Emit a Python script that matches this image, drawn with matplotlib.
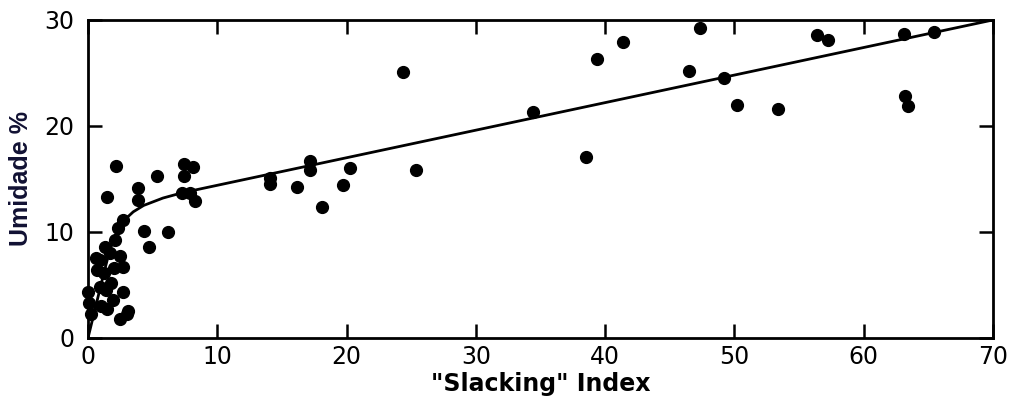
import matplotlib.pyplot as plt
from matplotlib import font_manager

# scattered measurements (slacking index, moisture %)
slack_x = [0.0, 0.1, 0.2, 0.6, 0.7, 0.9, 0.9, 1.0, 1.2, 1.3, 1.4, 1.5, 1.7, 1.8,
           1.9, 2.0, 2.5, 2.7, 2.7, 3.0, 3.1, 2.5, 2.3, 2.1, 2.7, 1.5, 2.2,
           3.9, 3.9, 5.3, 7.4, 8.1, 7.4, 7.3, 7.9, 8.3, 4.3, 6.2, 4.7,
           14.1, 14.1, 16.2, 17.2, 17.2, 18.1, 19.7, 20.3, 24.4, 25.4,
           34.4, 38.5, 39.4, 41.4, 46.5, 47.3, 49.2, 50.2, 53.4, 56.4, 57.2,
           63.1, 63.2, 63.4, 65.4]
moist_y = [4.3, 3.3, 2.3, 7.5, 6.4, 4.8, 7.4, 3.0, 6.1, 8.6, 4.5, 2.7, 8.0, 5.2,
           3.6, 6.6, 7.7, 4.3, 6.7, 2.3, 2.5, 1.8, 10.4, 9.2, 11.1, 13.3, 16.2,
           14.1, 13.0, 15.3, 16.4, 16.1, 15.3, 13.7, 13.7, 12.9, 10.1, 10.0, 8.6,
           15.1, 14.5, 14.2, 16.7, 15.8, 12.4, 14.4, 16.0, 25.1, 15.8,
           21.3, 17.1, 26.3, 27.9, 25.2, 29.2, 24.5, 22.0, 21.6, 28.6, 28.1,
           28.7, 22.8, 21.9, 28.9]

# fitted curve
curve_x = [0, 0.4, 0.8, 1.2, 1.6, 2.0, 2.7, 3.5, 4.3, 5.8, 7.3, 70]
curve_y = [0, 2.0, 4.0, 6.0, 7.9, 9.4, 11.0, 11.9, 12.5, 13.2, 13.7, 30]

# narrow font for the x label if there is one
names = {f.name for f in font_manager.fontManager.ttflist}
if 'Liberation Sans Narrow' in names:
    xfont, xsize = 'Liberation Sans Narrow', 19
else:
    xfont, xsize = 'DejaVu Sans', 17

fig = plt.figure(figsize=(10.14, 3.99), dpi=100)
ax = fig.add_axes([0.0868, 0.153, 0.8925, 0.797])

ax.plot(curve_x, curve_y, color='black', lw=2)
ax.plot(slack_x, moist_y, 'o', color='black', ms=8.5, clip_on=False)

ax.set_xlim(0, 70)
ax.set_ylim(0, 30)
ax.set_xticks(range(0, 71, 10))
ax.set_yticks([0, 10, 20, 30])
ax.tick_params(direction='in', length=10, width=1.8, labelsize=17, pad=5,
               top=True, right=True)
ax.tick_params(axis='y', pad=10)
for s in ax.spines.values():
    s.set_linewidth(2)

ax.set_xlabel('"Slacking" Index', fontsize=xsize, fontweight='bold',
              family=xfont, labelpad=2)
ax.set_ylabel('Umidade %', fontsize=18, fontweight='bold', color='#111133',
              family=['Liberation Sans', 'DejaVu Sans'], labelpad=8)

fig.savefig('out.png', dpi=100)
